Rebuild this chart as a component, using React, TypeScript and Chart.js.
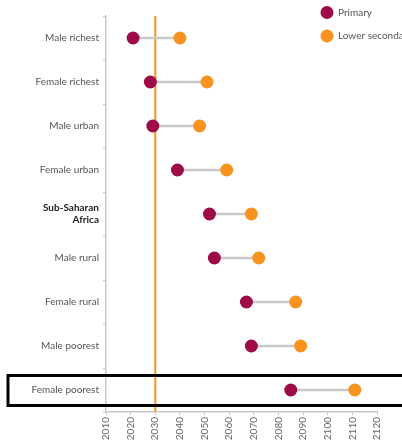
import React, { useEffect, useRef } from "react";
import { Chart, registerables } from "chart.js";

Chart.register(...registerables);

const categories: (string | string[])[] = [
  "Male richest",
  "Female richest",
  "Male urban",
  "Female urban",
  ["Sub-Saharan", "Africa"],
  "Male rural",
  "Female rural",
  "Male poorest",
  "Female poorest",
];
const primary = [2021, 2028, 2029, 2039, 2052, 2054, 2067, 2069, 2085];
const lowerSecondary = [2040, 2051, 2048, 2059, 2069, 2072, 2087, 2089, 2111];
const seriesNames = ["Primary", "Lower secondary"];
const targetYear = 2030;
const xMin = 2010;
const xMax = 2120;
const highlightIndex = 8;
const boldIndex = 4;

const MAROON = "#9e0b47";
const ORANGE = "#f7931e";
const GRAY = "#c9c9c9";
const TEXT = "#555555";
const FONT = "Lato";

export default function App() {
  const ref = useRef<HTMLCanvasElement | null>(null);

  useEffect(() => {
    if (!ref.current) return;
    const overlay = {
      id: "overlay",
      beforeDatasetsDraw(chart: any) {
        const { ctx, chartArea, scales } = chart;
        const x = scales.x.getPixelForValue(targetYear);
        ctx.save();
        ctx.strokeStyle = ORANGE;
        ctx.lineWidth = 2;
        ctx.beginPath();
        ctx.moveTo(x, chartArea.top);
        ctx.lineTo(x, chartArea.bottom);
        ctx.stroke();
        ctx.restore();
      },
      afterDraw(chart: any) {
        const { ctx, scales } = chart;
        ctx.save();
        const yc = scales.y.getPixelForValue(highlightIndex);
        ctx.strokeStyle = "#000";
        ctx.lineWidth = 3;
        ctx.strokeRect(8, yc - 14.5, 420, 30);
        const colors = [MAROON, ORANGE];
        const ys = [12.5, 36];
        ctx.font = `10px ${FONT}`;
        ctx.textBaseline = "middle";
        ctx.textAlign = "left";
        for (let i = 0; i < 2; i++) {
          ctx.fillStyle = colors[i];
          ctx.beginPath();
          ctx.arc(327, ys[i], 6.5, 0, Math.PI * 2);
          ctx.fill();
          ctx.fillStyle = TEXT;
          ctx.fillText(seriesNames[i], 338, ys[i]);
        }
        ctx.restore();
      },
    };

    const chart = new Chart(ref.current, {
      type: "bar",
      data: {
        labels: categories as any,
        datasets: [
          {
            type: "line",
            label: seriesNames[0],
            data: primary,
            indexAxis: "y",
            showLine: false,
            pointRadius: 6.5,
            pointBackgroundColor: MAROON,
            pointBorderWidth: 0,
            borderColor: MAROON,
            order: 1,
          } as any,
          {
            type: "line",
            label: seriesNames[1],
            data: lowerSecondary,
            indexAxis: "y",
            showLine: false,
            pointRadius: 6.5,
            pointBackgroundColor: ORANGE,
            pointBorderWidth: 0,
            borderColor: ORANGE,
            order: 2,
          } as any,
          {
            type: "bar",
            label: "range",
            data: primary.map((p, i) => [p, lowerSecondary[i]]),
            backgroundColor: GRAY,
            barThickness: 2,
            order: 3,
          } as any,
        ],
      },
      options: {
        indexAxis: "y",
        animation: false,
        responsive: false,
        maintainAspectRatio: false,
        layout: { padding: { top: 16, right: 25, left: 0, bottom: 0 } },
        plugins: { legend: { display: false }, tooltip: { enabled: false } },
        scales: {
          y: {
            type: "category",
            offset: true,
            afterFit(scale: any) {
              scale.width = 106;
            },
            grid: {
              offset: true,
              drawOnChartArea: false,
              tickLength: 3,
              color: GRAY,
            },
            border: { color: GRAY, width: 1.5 },
            ticks: {
              padding: 4,
              font: (c: any) => ({
                family: FONT,
                size: 10,
                weight: c.index === boldIndex ? "bold" : "normal",
                lineHeight: 1.15,
              }),
              color: (c: any) => (c.index === boldIndex ? "#222" : TEXT),
            },
          },
          x: {
            type: "linear",
            min: xMin,
            max: xMax,
            afterFit(scale: any) {
              scale.height = 33;
            },
            grid: { drawOnChartArea: false, tickLength: 3, color: GRAY },
            border: { color: GRAY, width: 1.5 },
            ticks: {
              stepSize: 10,
              minRotation: 90,
              maxRotation: 90,
              padding: 2,
              autoSkip: false,
              color: "#666",
              font: { family: FONT, size: 10 },
              callback: (v: any) => String(v),
            },
          },
        },
      },
      plugins: [overlay],
    });
    return () => chart.destroy();
  }, []);

  return (
    <div
      style={{
        position: "fixed",
        left: 0,
        top: 0,
        width: 402,
        height: 445,
        overflow: "hidden",
        background: "#fff",
      }}
    >
      <canvas ref={ref} width={402} height={445} style={{ width: 402, height: 445 }} />
    </div>
  );
}
